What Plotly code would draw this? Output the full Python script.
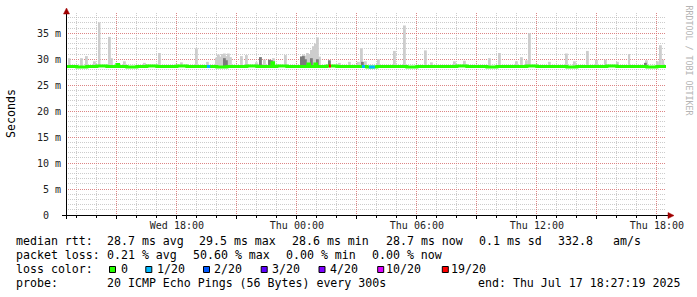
import numpy as np
import pandas as pd
import plotly.graph_objects as go

# ---------------- data ----------------
t_start = "2025-07-16 12:27:19"
t_end = "2025-07-17 18:27:19"

# median rtt (ms), first value at t_start, then every 30 min from Wed 13:00
median_vals = [28.6, 28.5, 28.6, 28.7, 28.6, 28.6, 28.5, 28.6, 28.7, 28.6,
               28.6, 28.7, 28.6, 28.6, 28.6, 28.5, 28.6, 28.6, 28.7, 28.6,
               28.6, 28.7, 28.6, 28.6, 28.6, 28.6, 28.7, 28.6, 28.6, 28.6,
               28.5, 28.6, 28.6, 28.6, 28.5, 28.6, 28.6, 28.6, 28.6, 28.7,
               28.6, 28.6, 28.5, 28.6, 28.6, 28.6, 28.7, 28.6, 28.6, 28.6,
               28.5, 28.6, 28.6, 28.6, 28.7, 28.6, 28.6, 28.6, 28.5, 28.6]

# short upward steps of the median (5 min each)
bump_times = ["2025-07-16 15:00", "2025-07-16 22:45", "2025-07-17 00:33", "2025-07-17 00:54"]
bump_vals = [29.0, 29.3, 29.1, 29.1]

# light smoke: max ping per step (ms)
light_times = [
    "2025-07-16 12:38", "2025-07-16 13:15", "2025-07-16 13:30", "2025-07-16 13:54",
    "2025-07-16 14:08", "2025-07-16 14:39", "2025-07-16 14:45", "2025-07-16 15:24",
    "2025-07-16 16:24", "2025-07-16 17:09", "2025-07-16 18:15", "2025-07-16 19:00",
    "2025-07-16 19:33", "2025-07-16 20:00", "2025-07-16 20:06", "2025-07-16 20:12",
    "2025-07-16 20:18", "2025-07-16 20:24", "2025-07-16 20:30", "2025-07-16 20:36",
    "2025-07-16 20:42", "2025-07-16 21:15", "2025-07-16 21:30", "2025-07-16 22:00",
    "2025-07-16 22:12", "2025-07-16 22:24", "2025-07-16 22:42", "2025-07-16 22:51",
    "2025-07-16 23:27", "2025-07-17 00:15", "2025-07-17 00:21", "2025-07-17 00:27",
    "2025-07-17 00:33", "2025-07-17 00:39", "2025-07-17 00:45", "2025-07-17 00:51",
    "2025-07-17 00:57", "2025-07-17 01:03", "2025-07-17 01:09", "2025-07-17 01:39",
    "2025-07-17 02:09", "2025-07-17 02:39", "2025-07-17 03:06", "2025-07-17 03:15",
    "2025-07-17 03:27", "2025-07-17 04:06", "2025-07-17 04:54", "2025-07-17 05:24",
    "2025-07-17 06:27", "2025-07-17 06:45", "2025-07-17 07:54", "2025-07-17 08:24",
    "2025-07-17 09:39", "2025-07-17 10:09", "2025-07-17 11:00", "2025-07-17 11:15",
    "2025-07-17 11:30", "2025-07-17 11:39", "2025-07-17 12:39", "2025-07-17 13:30",
    "2025-07-17 13:54", "2025-07-17 14:33", "2025-07-17 15:00", "2025-07-17 15:27",
    "2025-07-17 16:03", "2025-07-17 16:37", "2025-07-17 17:30", "2025-07-17 18:03",
    "2025-07-17 18:12", "2025-07-17 18:19"]
light_tops = [
    30.2, 30.2, 30.6, 29.6,
    37.1, 34.3, 30.2, 29.6,
    29.3, 31.2, 29.4, 32.1,
    29.5, 30.3, 30.9, 30.5,
    31.0, 31.1, 30.6, 31.1,
    30.4, 30.6, 30.8, 29.4,
    30.4, 29.9, 29.8, 30.2,
    30.8, 30.6, 30.9, 30.7,
    31.2, 31.0, 31.8, 32.5,
    33.0, 34.2, 30.5, 29.6,
    29.3, 29.5, 29.5, 32.1,
    29.6, 30.0, 31.6, 36.5,
    31.7, 29.4, 29.6, 29.7,
    30.2, 31.2, 29.6, 30.4,
    29.8, 35.0, 29.5, 31.1,
    29.6, 31.6, 29.9, 29.9,
    29.5, 31.0, 29.8, 29.6,
    32.7, 29.9]

# darker smoke layers (ms)
dark_times = ["2025-07-16 20:24", "2025-07-16 20:30", "2025-07-16 22:12", "2025-07-16 22:39",
              "2025-07-16 22:45", "2025-07-17 00:15", "2025-07-17 00:21", "2025-07-17 00:27",
              "2025-07-17 00:45", "2025-07-17 01:03", "2025-07-17 01:39", "2025-07-17 03:18",
              "2025-07-17 17:27"]
dark_tops = [30.2, 29.8, 30.4, 29.9,
             29.8, 30.5, 30.6, 30.0,
             30.2, 30.0, 29.8, 29.5,
             29.3]

# packet-loss coloured pieces of the median line
loss_start = ["2025-07-16 19:30", "2025-07-17 01:36", "2025-07-17 03:15", "2025-07-17 03:36"]
loss_end = ["2025-07-16 19:40", "2025-07-17 01:42", "2025-07-17 03:24", "2025-07-17 03:54"]
loss_level = ["1/20", "19/20", "1/20", "1/20"]

legend_labels = ["0", "1/20", "2/20", "3/20", "4/20", "10/20", "19/20"]
legend_colors = ["#26ff00", "#00b8ff", "#0059ff", "#5e00ff", "#7e00ff", "#dd00ff", "#ff0000"]

y_major_vals = [0, 5, 10, 15, 20, 25, 30, 35]
y_major_text = ["0\u00a0\u00a0", "5 m", "10 m", "15 m", "20 m", "25 m", "30 m", "35 m"]

x_major_vals = ["2025-07-16 15:00", "2025-07-16 18:00", "2025-07-16 21:00", "2025-07-17 00:00",
                "2025-07-17 03:00", "2025-07-17 06:00", "2025-07-17 09:00", "2025-07-17 12:00",
                "2025-07-17 15:00", "2025-07-17 18:00"]
x_label_vals = ["2025-07-16 18:00", "2025-07-17 00:00", "2025-07-17 06:00",
                "2025-07-17 12:00", "2025-07-17 18:00"]
x_label_text = ["Wed 18:00", "Thu 00:00", "Thu 06:00", "Thu 12:00", "Thu 18:00"]

rtt_stats = ["28.7 ms avg", "29.5 ms max", "28.6 ms min", "28.7 ms now", "0.1 ms sd", "332.8", "am/s"]
loss_stats = ["0.21 % avg", "50.60 % max", "0.00 % min", "0.00 % now"]
probe_text = "20 ICMP Echo Pings (56 Bytes) every 300s"
end_text = "end: Thu Jul 17 18:27:19 2025"

# ---------------- geometry / style ----------------
W, H = 697, 297
PL, PR, PT, PB = 66, 666, 13, 215   # plot box in pixels
FONT = "DejaVu Sans Mono"
MAJOR_GRID = "rgba(225,110,110,0.75)"
MINOR_GRID = "rgba(170,170,170,0.6)"
DOTS = "1px,1px"


def px(x):
    return (x - PL) / (PR - PL)


def py(y):
    return (PB - y) / (PB - PT)


# ---------------- build series ----------------
t0 = pd.Timestamp(t_start)
t1 = pd.Timestamp(t_end)
med_t = [t0] + list(pd.date_range("2025-07-16 13:00", periods=len(median_vals) - 1, freq="30min"))
med_s = pd.Series(median_vals, index=pd.DatetimeIndex(med_t))


def median_at(t):
    t = pd.Timestamp(t)
    return float(med_s[med_s.index <= t].iloc[-1])


pts = {t: v for t, v in zip(med_s.index, med_s.values)}
five = pd.Timedelta(minutes=5)
for bt, bv in zip(bump_times, bump_vals):
    b = pd.Timestamp(bt)
    pts[b] = bv
    pts[b + five] = median_at(b + five)
pts[t1] = median_vals[-1]
line_t = sorted(pts.keys())
line_v = [pts[t] for t in line_t]

loss_color = dict(zip(legend_labels, legend_colors))

# hourly minor ticks with labels only at the labelled positions
hour_vals = list(pd.date_range("2025-07-16 13:00", "2025-07-17 18:00", freq="1h"))
lab_map = {pd.Timestamp(v): s for v, s in zip(x_label_vals, x_label_text)}
hour_text = [lab_map.get(h, "") for h in hour_vals]
ymin_vals = list(range(0, 39))
ymap = dict(zip(y_major_vals, y_major_text))
ymin_text = [ymap.get(v, "") for v in ymin_vals]

fig = go.Figure()

BW = 330000  # bar width in ms (~one 5-min step)
lb = [median_at(t) for t in light_times]
fig.add_trace(go.Bar(x=pd.to_datetime(light_times), y=np.array(light_tops) - np.array(lb), base=lb,
                     width=BW, marker=dict(color="#cdcdcd", line=dict(width=0)),
                     hoverinfo="skip", showlegend=False))
db = [median_at(t) for t in dark_times]
fig.add_trace(go.Bar(x=pd.to_datetime(dark_times), y=np.array(dark_tops) - np.array(db), base=db,
                     width=BW, marker=dict(color="#7a7a7a", line=dict(width=0)),
                     hoverinfo="skip", showlegend=False))

fig.add_trace(go.Scatter(x=line_t, y=line_v, mode="lines",
                         line=dict(color=legend_colors[0], width=3, shape="hv"),
                         hoverinfo="skip", showlegend=False))

for s, e, lvl in zip(loss_start, loss_end, loss_level):
    v = median_at(s)
    fig.add_trace(go.Scatter(x=[pd.Timestamp(s), pd.Timestamp(e)], y=[v, v], mode="lines",
                             line=dict(color=loss_color[lvl], width=3), hoverinfo="skip", showlegend=False))

# invisible trace for the overlay axes that carry the major (red) grid
fig.add_trace(go.Scatter(x=[t0], y=[0], xaxis="x2", yaxis="y2", mode="markers",
                         marker=dict(opacity=0), hoverinfo="skip", showlegend=False))

fig.update_layout(
    width=W, height=H,
    margin=dict(l=PL, r=W - PR, t=PT, b=H - PB, pad=0),
    paper_bgcolor="white", plot_bgcolor="white",
    barmode="overlay",
    font=dict(family=FONT, size=10, color="#000"),
    xaxis=dict(
        type="date", range=[t0, t1],
        tickmode="array", tickvals=hour_vals, ticktext=hour_text,
        tickfont=dict(family=FONT, size=10, color="#222"),
        ticks="outside", ticklen=2, tickcolor="#000", tickwidth=1, ticklabelstandoff=-1,
        showgrid=True, gridcolor=MINOR_GRID, griddash=DOTS, gridwidth=1,
        showline=False, zeroline=False, fixedrange=True,
    ),
    xaxis2=dict(
        type="date", range=[t0, t1], overlaying="x", matches="x",
        tickmode="array", tickvals=x_major_vals, showticklabels=False,
        ticks="outside", ticklen=3, tickcolor="#000", tickwidth=1,
        showgrid=True, gridcolor=MAJOR_GRID, griddash=DOTS, gridwidth=1,
        showline=False, zeroline=False, fixedrange=True,
    ),
    yaxis=dict(
        range=[0, 38.9],
        tickmode="array", tickvals=ymin_vals, ticktext=ymin_text,
        tickfont=dict(family=FONT, size=10, color="#222"),
        ticks="", ticklabelstandoff=4,
        showgrid=True, gridcolor=MINOR_GRID, griddash=DOTS, gridwidth=1,
        showline=False, zeroline=False, fixedrange=True,
    ),
    yaxis2=dict(
        range=[0, 38.9], overlaying="y", matches="y",
        tickmode="array", tickvals=y_major_vals, showticklabels=False, ticks="",
        showgrid=True, gridcolor=MAJOR_GRID, griddash=DOTS, gridwidth=1,
        showline=False, zeroline=False, fixedrange=True,
    ),
)

shapes = []
# axis lines
shapes.append(dict(type="line", xref="paper", yref="paper", x0=px(62), x1=px(670), y0=py(215.5), y1=py(215.5),
                   line=dict(color="#000", width=1), layer="above"))
shapes.append(dict(type="line", xref="paper", yref="paper", x0=px(66.5), x1=px(66.5), y0=py(219), y1=py(12),
                   line=dict(color="#000", width=1), layer="above"))
# arrows
shapes.append(dict(type="path", xref="paper", yref="paper",
                   path=f"M {px(668)},{py(212.5)} L {px(674)},{py(215.5)} L {px(668)},{py(218.5)} Z",
                   fillcolor="#a00000", line=dict(color="#a00000", width=0.5), layer="above"))
shapes.append(dict(type="path", xref="paper", yref="paper",
                   path=f"M {px(63.5)},{py(14)} L {px(66.5)},{py(8)} L {px(69.5)},{py(14)} Z",
                   fillcolor="#a00000", line=dict(color="#a00000", width=0.5), layer="above"))

annotations = []


def ann(x, y, text, size=11.6, color="#000", xanchor="left", angle=0):
    annotations.append(dict(xref="paper", yref="paper", x=px(x), y=py(y), text=text, showarrow=False,
                            xanchor=xanchor, yanchor="middle", textangle=angle,
                            font=dict(family=FONT, size=size, color=color),
                            borderpad=0, borderwidth=0))


ann(11, 114, "Seconds", size=11.6, xanchor="center", angle=-90)
ann(688.5, 60, "RRDTOOL / TOBI OETIKER", size=8.3, color="#b4b4b4", xanchor="center", angle=90)

R1, R2, R3, R4 = 241, 255, 269, 283
ann(15.5, R1, "median rtt:")
for x, s in zip([106.5, 199.2, 291.9, 385.9, 478.5, 557.5, 613.2], rtt_stats):
    ann(x, R1, s)
ann(15.5, R2, "packet loss:")
for x, s in zip([106.5, 192.5, 285.9, 371.5], loss_stats):
    ann(x, R2, s)
ann(15.5, R3, "loss color:")
sq_x = [109.5, 145.8, 203.5, 261.2, 319.0, 377.7, 442.3]
lab_x = [121.0, 156.5, 214.2, 272.0, 329.5, 386.0, 451.0]
for sx, lx, lab, col in zip(sq_x, lab_x, legend_labels, legend_colors):
    shapes.append(dict(type="rect", xref="paper", yref="paper", x0=px(sx), x1=px(sx + 6),
                       y0=py(272.5), y1=py(266.5), fillcolor=col, line=dict(color="#000", width=1)))
    ann(lx, R3, lab)
ann(15.5, R4, "probe:")
ann(106.5, R4, probe_text)
ann(477.5, R4, end_text)

fig.update_layout(shapes=shapes, annotations=annotations)
fig.write_html("out.html")
